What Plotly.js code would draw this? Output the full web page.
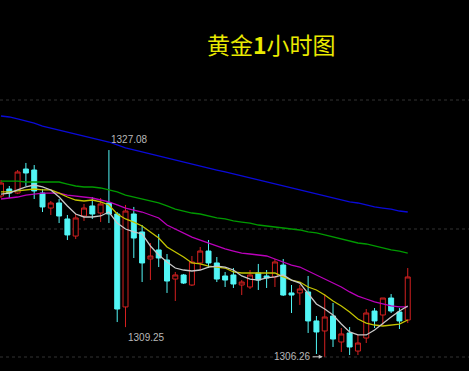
<!DOCTYPE html>
<html>
<head>
<meta charset="utf-8">
<script src="https://cdn.plot.ly/plotly-3.0.1.min.js"></script>
<style>
html,body{margin:0;padding:0;background:#000;}
#chart{width:469px;height:371px;}
</style>
</head>
<body>
<div id="chart"></div>
<script>
// ---- data (gold, 1-hour candles) ----
var titleText = "黄金<b>1</b>小时图";
var candleIndex = [];
for (var k = 0; k < 50; k++) candleIndex.push(k);

var openP = [1322.45,1323.16,1322.75,1325.17,1325.07,1322.75,1321.24,1321.75,1320.14,1318.42,
             1320.44,1321.45,1320.74,1321.75,1320.64,1311.28,1320.64,1318.83,1316.11,1317.02,
             1316.01,1314.09,1314.50,1313.49,1315.71,1316.91,1315.71,1314.40,1314.50,1313.49,
             1313.29,1314.70,1314.40,1314.30,1315.50,1312.69,1312.69,1312.79,1309.87,1308.86,
             1310.37,1307.75,1308.66,1306.84,1308.15,1310.87,1310.47,1312.18,1310.77,1309.97];
var highP = [1324.06,1323.46,1325.07,1325.78,1325.57,1323.16,1321.95,1322.15,1320.54,1320.64,
             1321.65,1322.35,1322.25,1327.08,1320.84,1321.55,1321.35,1319.53,1317.72,1318.63,
             1316.61,1314.80,1314.60,1316.41,1317.32,1318.02,1316.31,1314.80,1315.20,1313.99,
             1315.00,1315.61,1315.00,1316.11,1316.11,1313.49,1313.49,1314.40,1310.37,1312.58,
             1311.68,1309.16,1309.26,1308.46,1311.07,1311.17,1312.18,1312.58,1311.17,1315.20];
var lowP  = [1322.25,1322.25,1322.65,1323.46,1322.15,1320.84,1320.54,1319.73,1318.02,1318.12,
             1319.94,1320.14,1319.83,1319.73,1309.76,1309.25,1316.21,1313.79,1313.99,1315.30,
             1312.69,1311.88,1313.59,1313.39,1315.00,1315.20,1313.79,1313.29,1313.19,1312.48,
             1313.09,1312.99,1313.19,1313.29,1312.38,1310.67,1311.48,1308.66,1306.54,1306.26,
             1307.25,1306.74,1306.44,1306.44,1307.65,1309.16,1309.46,1310.67,1309.06,1309.66];
var closeP = [1323.76,1322.75,1324.87,1324.77,1322.96,1321.35,1321.75,1320.44,1318.53,1320.24,
             1321.24,1320.64,1321.65,1320.64,1311.07,1320.94,1318.22,1315.71,1316.41,1316.21,
             1313.89,1314.50,1313.69,1315.81,1316.91,1315.71,1314.09,1313.99,1313.59,1313.79,
             1314.50,1313.99,1314.20,1315.81,1312.48,1312.48,1313.09,1309.87,1308.76,1310.27,
             1308.05,1308.56,1307.25,1307.65,1310.67,1309.87,1312.18,1310.87,1309.87,1314.30];

var ma5 = [1322.65,1322.75,1323.06,1323.36,1323.56,1323.36,1323.06,1322.35,1321.45,1320.64,
           1320.34,1320.34,1320.44,1320.84,1319.73,1319.13,1318.83,1318.63,1317.42,1316.51,
           1315.81,1315.20,1315.00,1314.90,1315.00,1315.30,1315.40,1315.30,1315.00,1314.40,
           1314.09,1313.99,1314.20,1314.30,1314.50,1313.99,1313.69,1312.58,1311.58,1311.07,
           1310.47,1309.56,1308.76,1308.46,1308.46,1308.96,1309.66,1310.27,1310.87,1311.38];
var ma10 = [1322.86,1322.86,1322.96,1323.06,1323.16,1323.06,1323.06,1322.75,1322.35,1322.05,
            1321.95,1322.05,1321.85,1321.55,1320.64,1320.14,1319.83,1319.43,1318.83,1318.22,
            1317.32,1316.81,1316.31,1315.71,1315.61,1315.40,1315.30,1315.20,1314.80,1314.70,
            1314.70,1314.70,1314.70,1314.70,1314.30,1313.99,1313.79,1313.29,1312.99,1312.48,
            1311.88,1311.38,1310.77,1310.07,1309.66,1309.46,1309.36,1309.46,1309.56,1309.97];
var ma20 = [1322.15,1322.25,1322.35,1322.55,1322.65,1322.75,1322.75,1322.75,1322.55,1322.45,
            1322.35,1322.25,1322.05,1321.85,1321.55,1321.24,1321.04,1320.84,1320.54,1320.24,
            1319.53,1319.13,1318.73,1318.32,1318.02,1317.72,1317.42,1317.12,1316.91,1316.71,
            1316.61,1316.51,1316.41,1316.11,1315.81,1315.50,1315.30,1314.90,1314.50,1314.09,
            1313.69,1313.29,1312.79,1312.38,1312.08,1311.78,1311.58,1311.38,1311.28,1311.28];
var ma60 = [1323.96,1323.96,1323.96,1323.86,1323.86,1323.86,1323.86,1323.86,1323.66,1323.46,
            1323.36,1323.36,1323.26,1323.06,1322.86,1322.55,1322.35,1322.15,1321.95,1321.75,
            1321.45,1321.14,1320.94,1320.74,1320.64,1320.44,1320.24,1320.14,1319.94,1319.83,
            1319.73,1319.53,1319.43,1319.33,1319.23,1319.13,1319.03,1318.83,1318.73,1318.53,
            1318.32,1318.12,1317.92,1317.72,1317.62,1317.42,1317.22,1317.02,1316.91,1316.71];
var ma120 = [1330.51,1330.41,1330.21,1330.01,1329.80,1329.50,1329.30,1329.10,1328.90,1328.70,
             1328.49,1328.29,1328.09,1327.89,1327.59,1327.29,1327.09,1326.88,1326.68,1326.48,
             1326.28,1326.08,1325.88,1325.68,1325.47,1325.27,1325.07,1324.87,1324.67,1324.47,
             1324.27,1324.06,1323.86,1323.66,1323.46,1323.26,1323.06,1322.86,1322.65,1322.45,
             1322.25,1322.05,1321.85,1321.75,1321.55,1321.35,1321.24,1321.14,1320.94,1320.84];

var gridLevels = [1332.12, 1319.13, 1306.24];
var labelHigh = {i: 13, v: 1327.08, text: "1327.08"};
var labelLow1 = {i: 15, v: 1309.25, text: "1309.25"};
var labelLow2 = {i: 39, v: 1306.26, text: "1306.26"};

// ---- traces ----
var UP = '#d42020', DOWN = '#52f6f6';
var traces = [{
  type: 'candlestick',
  x: candleIndex, open: openP, high: highP, low: lowP, close: closeP,
  increasing: {line: {color: UP, width: 1}, fillcolor: '#000000'},
  decreasing: {line: {color: DOWN, width: 1}, fillcolor: DOWN},
  whiskerwidth: 0,
  hoverinfo: 'skip',
  showlegend: false
}];
function addLine(arr, color) {
  traces.push({type: 'scatter', mode: 'lines', x: candleIndex, y: arr,
    line: {color: color, width: 1.3}, hoverinfo: 'skip', showlegend: false});
}
addLine(ma120, '#0a0ad8');
addLine(ma60, '#009a00');
addLine(ma20, '#bb00bb');
addLine(ma10, '#c4c400');
addLine(ma5, '#c8c8c8');

var shapes = gridLevels.map(function (g) {
  return {type: 'line', xref: 'paper', x0: 0, x1: 1, yref: 'y', y0: g, y1: g,
          line: {color: '#333333', width: 1, dash: 'dot'}, layer: 'below'};
});

var lblFont = {family: 'Liberation Sans, Arial, sans-serif', size: 10, color: '#b8b8b8'};
var annotations = [
  {xref: 'paper', yref: 'paper', x: 0.578, y: 0.881, xanchor: 'center', yanchor: 'middle',
   text: titleText, showarrow: false,
   font: {family: 'Noto Sans CJK SC, sans-serif', size: 23, color: '#eaea00'}},
  {x: labelHigh.i, y: labelHigh.v, text: labelHigh.text, showarrow: false,
   xanchor: 'left', yanchor: 'bottom', xshift: 0, yshift: 3, font: lblFont},
  {x: labelLow1.i, y: labelLow1.v, text: labelLow1.text, showarrow: false,
   xanchor: 'left', yanchor: 'top', xshift: 0, yshift: -3, font: lblFont},
  {x: labelLow2.i, y: labelLow2.v, text: labelLow2.text, showarrow: true,
   ax: -32, ay: 0, axref: 'pixel', ayref: 'pixel', arrowhead: 2, arrowsize: 0.8,
   arrowwidth: 1, arrowcolor: '#c8c8c8', standoff: 2, font: lblFont}
];

var layout = {
  width: 469, height: 371,
  margin: {l: 0, r: 0, t: 0, b: 0},
  paper_bgcolor: '#000000', plot_bgcolor: '#000000',
  showlegend: false,
  boxgap: 0.4,
  boxgroupgap: 0,
  xaxis: {range: [-0.12, 56.38], visible: false, rangeslider: {visible: false}, fixedrange: true},
  yaxis: {range: [1304.83, 1342.19], visible: false, fixedrange: true},
  shapes: shapes,
  annotations: annotations,
  hovermode: false
};

Plotly.newPlot('chart', traces, layout, {displayModeBar: false, staticPlot: true});
</script>
</body>
</html>
